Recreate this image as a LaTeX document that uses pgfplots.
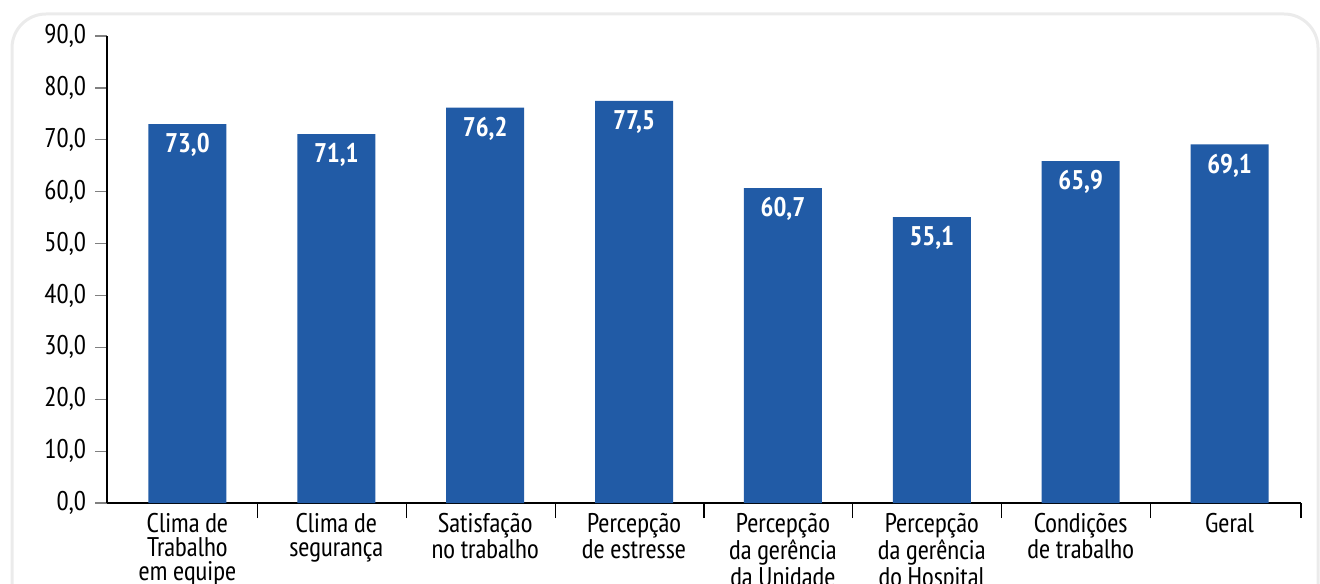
\documentclass[border=0pt]{standalone}
\usepackage{fontspec}
\setmainfont{PT Sans Narrow}
\usepackage{pgfplots}
\pgfplotsset{compat=1.18}
\definecolor{barblue}{RGB}{33,91,166}
\definecolor{frame}{RGB}{235,235,235}

\begin{document}
\begin{tikzpicture}
\useasboundingbox (0,0) rectangle (660pt,291.5pt);
\clip (0,0) rectangle (660pt,291.5pt);
\draw[frame, line width=1.5pt, rounded corners=17pt] (6pt,-30pt) -- (6pt,284.5pt) -- (659pt,284.5pt) -- (659pt,-30pt);
\begin{axis}[
  at={(53.5pt,40pt)}, anchor=south west,
  scale only axis, width=597pt, height=233.5pt,
  xmin=-0.54, xmax=7.48, ymin=0, ymax=90,
  axis lines=left, axis line style={-, line width=0.6pt},
  /pgf/number format/assume math mode=true,
  ytick={0,10,...,90},
  yticklabel={\pgfmathprintnumber[fixed,fixed zerofill,precision=1,use comma]{\tick}},
  y tick label style={font=\fontsize{13.5}{13.5}\selectfont, xshift=-1pt},
  xtick={0,...,7},
  xticklabels={{Clima de\\Trabalho\\em equipe},{Clima de\\segurança},{Satisfação\\no trabalho},{Percepção\\de estresse},{Percepção\\da gerência\\da Unidade},{Percepção\\da gerência\\do Hospital},{Condições\\de trabalho},{Geral}},
  x tick label style={font=\fontsize{13.5}{12.1}\selectfont, align=center, anchor=north, yshift=4.5pt},
  major x tick style={draw=none},
  minor xtick={0.47,1.47,2.47,3.47,4.47,5.47,6.47,7.48},
  tick align=outside, major tick length=6pt, minor tick length=7.5pt,
  minor x tick style={line width=0.6pt, black}, ytick style={line width=0.6pt},
  ybar, bar width=0.524,
  nodes near coords={\pgfmathprintnumber[fixed,fixed zerofill,precision=1,use comma]{\pgfplotspointmeta}},
  every node near coord/.append style={font=\bfseries\fontsize{13.5}{13.5}\selectfont, text=white, anchor=north, inner sep=0pt, yshift=-4.5pt},
  clip=false,
]
\addplot[fill=barblue, draw=none] coordinates {(0,73.0) (1,71.1) (2,76.2) (3,77.5) (4,60.7) (5,55.1) (6,65.9) (7,69.1)};
\end{axis}
\end{tikzpicture}
\end{document}
